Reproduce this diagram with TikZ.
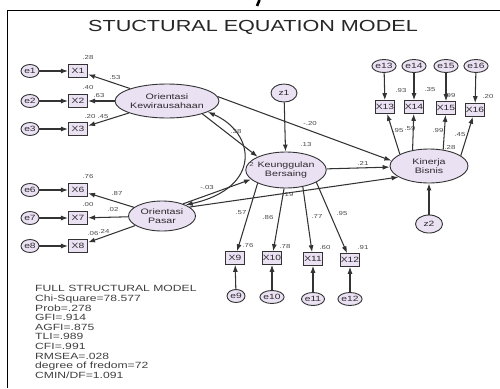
\documentclass[tikz,border=0pt]{standalone}
\usepackage{fontspec}
\setmainfont{Liberation Sans}[FakeStretch=1.35]
\usetikzlibrary{arrows.meta,shapes.geometric}
\definecolor{lav}{HTML}{EAE1F3}
\definecolor{edge}{HTML}{333333}
\definecolor{txt}{HTML}{2E2A2E}
\definecolor{lab}{HTML}{4A4A4A}
\tikzset{
  lat/.style={ellipse, draw=edge, line width=0.9pt, fill=lav, inner sep=0pt, align=center,
              font=\fontsize{7.9}{9}\selectfont, text=txt},
  obs/.style={rectangle, draw=edge, line width=1.1pt, fill=lav, inner sep=0pt,
              minimum width=19pt, minimum height=12.5pt, font=\fontsize{7.6}{8}\selectfont, text=txt},
  err/.style={ellipse, draw=edge, line width=0.9pt, fill=lav, inner sep=0pt,
              minimum width=18pt, minimum height=13pt, font=\fontsize{7.6}{8}\selectfont, text=txt},
  coef/.style={inner sep=0pt, font=\fontsize{5.8}{6}\selectfont, text=lab},
  arr/.style={draw=edge, line width=1.05pt, -{Latex[length=7pt,width=5pt]}},
  cov/.style={draw=edge, line width=1.05pt, {Latex[length=7pt,width=5pt]}-{Latex[length=7pt,width=5pt]}},
}
\begin{document}
\begin{tikzpicture}[x=1pt,y=-1pt]
\useasboundingbox (0,0) rectangle (500,388);
\fill[white] (0,0) rectangle (500,388);
% frame
\draw[line width=1pt, black] (7,388) -- (7,10) -- (500,10);
\draw[line width=2.6pt, black] (259.5,0) -- (257,6);
% title
\node[anchor=base, font=\fontsize{16}{18}\selectfont, text=black!85] (title) at (253,31) {STUCTURAL EQUATION MODEL};

% latent variables
\node[lat, minimum width=90pt, minimum height=34pt] (ok) at (167,101) {Orientasi\\Kewirausahaan};
\node[lat, minimum width=67pt, minimum height=30pt] (op) at (162,216) {Orientasi\\Pasar};
\node[lat, minimum width=77pt, minimum height=36pt] (ke) at (286,170) {Keunggulan\\Bersaing};
\node[lat, minimum width=78pt, minimum height=34pt] (kb) at (429,166) {Kinerja\\Bisnis};
\node[err, minimum width=26pt, minimum height=18pt] (z1) at (284,93) {z1};
\node[err, minimum width=27pt, minimum height=18pt] (z2) at (429,224) {z2};

% left indicators
\node[obs] (x1) at (78,71) {X1};
\node[obs] (x2) at (78,101) {X2};
\node[obs] (x3) at (78,129) {X3};
\node[obs] (x6) at (78,190) {X6};
\node[obs] (x7) at (78,218) {X7};
\node[obs] (x8) at (78,246) {X8};
\node[err] (e1) at (30,71) {e1};
\node[err] (e2) at (30,101) {e2};
\node[err] (e3) at (30,129) {e3};
\node[err] (e6) at (30,190) {e6};
\node[err] (e7) at (30,218) {e7};
\node[err] (e8) at (30,246) {e8};

% bottom indicators
\node[obs] (x9) at (235,258) {X9};
\node[obs] (x10) at (272,258) {X10};
\node[obs] (x11) at (313,259) {X11};
\node[obs] (x12) at (350,260) {X12};
\node[err] (e9) at (236,296) {e9};
\node[err] (e10) at (272,297) {e10};
\node[err] (e11) at (313,299) {e11};
\node[err] (e12) at (350,299) {e12};

% right indicators
\node[obs] (x13) at (385,107) {X13};
\node[obs] (x14) at (414,107) {X14};
\node[obs] (x15) at (446,108) {X15};
\node[obs] (x16) at (475,110) {X16};
\node[err] (e13) at (384,66) {e13};
\node[err] (e14) at (414,66) {e14};
\node[err] (e15) at (446,66) {e15};
\node[err] (e16) at (476,66) {e16};

% error arrows
\foreach \e/\x in {e1/x1,e2/x2,e3/x3,e6/x6,e7/x7,e8/x8,e9/x9,e10/x10,e11/x11,e12/x12,e13/x13,e14/x14,e15/x15,e16/x16}
  \draw[arr] (\e) -- (\x);

% loadings
\draw[arr] (ok) -- (x1);
\draw[arr] (ok) -- (x2);
\draw[arr] (ok) -- (x3);
\draw[arr] (op) -- (x6);
\draw[arr] (op) -- (x7);
\draw[arr] (op) -- (x8);
\draw[arr] (ke.205) -- (x9);
\draw[arr] (ke.264) -- (x10);
\draw[arr] (ke.315) -- (x11);
\draw[arr] (ke.338) -- (x12);
\draw[arr] (kb.158) -- (x13);
\draw[arr] (kb.136) -- (x14);
\draw[arr] (kb.49) -- (x15);
\draw[arr] (kb.18) -- (x16);

% structural paths
\draw[arr] (ok.-20) -- (ke.155);
\draw[arr] (ok.5) -- (kb.172);
\draw[arr] (op.30) -- (ke.195);
\draw[arr] (op.18) -- (kb.200);
\draw[arr] (ke) -- (kb);
\draw[arr] (z1) -- (ke);
\draw[arr] (z2) -- (kb);
\draw[cov] (ok.-15) .. controls (256,133) and (262,188) .. (op.25);

% coefficients
\node[coef] (c1) at (88,58) {.28};
\node[coef] (c2) at (115,78) {.53};
\node[coef] (c3) at (88,88) {.40};
\node[coef] (c4) at (99,96) {.63};
\node[coef] (c5) at (90,117) {.20};
\node[coef] (c6) at (103,117) {.45};
\node[coef] (c7) at (88,177) {.76};
\node[coef] (c8) at (117,193) {.87};
\node[coef] (c9) at (88,204) {.00};
\node[coef] (c10) at (113,210) {.02};
\node[coef] (c11) at (93,233) {.06};
\node[coef] (c12) at (104,231) {.24};
\node[coef] (c13) at (236,132) {.38};
\node[coef] (c14) at (310,124) {-.20};
\node[coef] (c15) at (306,145) {.13};
\node[coef] (c16) at (363,163) {.21};
\node[coef] (c17) at (207,188) {-.03};
\node[coef] (c18) at (288,195) {.19};
\node[coef] (c19) at (241,213) {.57};
\node[coef] (c20) at (268,217) {.86};
\node[coef] (c21) at (317,217) {.77};
\node[coef] (c22) at (342,213) {.95};
\node[coef] (c23) at (248,245) {.76};
\node[coef] (c24) at (285,246) {.78};
\node[coef] (c25) at (325,247) {.60};
\node[coef] (c26) at (363,247) {.91};
\node[coef] (c27) at (401,91) {.93};
\node[coef] (c28) at (430,90) {.35};
\node[coef] (c29) at (450,96) {.99};
\node[coef] (c30) at (488,97) {.20};
\node[coef] (c31) at (398,131) {.95};
\node[coef] (c32) at (410,129) {.59};
\node[coef] (c33) at (438,131) {.99};
\node[coef] (c34) at (460,135) {.45};
\node[coef] (c35) at (450,148) {.28};
\node[coef] (c36) at (251.5,164) {2};

% fit statistics
\node[anchor=north west, inner sep=0pt, align=left, text=black!75,
      font=\fontsize{9}{9.6}\selectfont] (stats) at (35,285.5)
{FULL STRUCTURAL MODEL\\Chi-Square=78.577\\Prob=.278\\GFI=.914\\AGFI=.875\\TLI=.989\\CFI=.991\\RMSEA=.028\\degree of fredom=72\\CMIN/DF=1.091};
\end{tikzpicture}
\end{document}
